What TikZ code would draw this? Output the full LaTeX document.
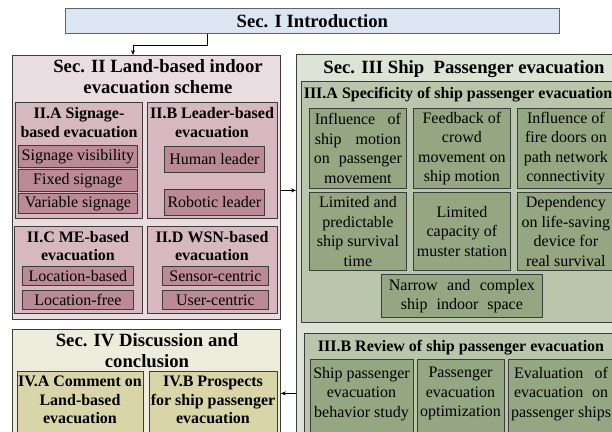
\documentclass[tikz,border=0pt]{standalone}
\usepackage{fontspec}
\setmainfont{Liberation Serif}
\usetikzlibrary{arrows.meta,calc}
\definecolor{tblue}{RGB}{220,230,242}
\definecolor{pinkA}{RGB}{234,221,225}
\definecolor{pinkB}{RGB}{215,184,192}
\definecolor{pinkC}{RGB}{187,138,148}
\definecolor{greenA}{RGB}{221,227,213}
\definecolor{greenB}{RGB}{186,198,172}
\definecolor{greenC}{RGB}{149,166,130}
\definecolor{yelA}{RGB}{238,236,220}
\definecolor{yelB}{RGB}{216,214,169}
\definecolor{bordc}{RGB}{60,60,60}
\newcommand\sectfont{\fontsize{18.7}{21}\selectfont\bfseries}
\newcommand\subtfont{\fontsize{16}{18.5}\selectfont\bfseries}
\newcommand\bodyfont{\fontsize{16}{19.5}\selectfont}
\newcommand\jl[2]{\makebox[#1][s]{#2}}
% #1 options, #2 name, #3 x1, #4 y1, #5 x2, #6 y2, #7 text
\newcommand\mkbox[7][]{%
  \pgfmathsetmacro\bxw{#5-#3}\pgfmathsetmacro\bxh{#6-#4}%
  \node[box,#1,minimum width=\bxw pt,minimum height=\bxh pt] (#2) at (#3,#4) {#7};}
\begin{document}
\begin{tikzpicture}[x=1pt,y=-1pt,
  box/.style={draw=bordc, line width=0.8pt, inner sep=0pt, anchor=north west, align=center},
  sect/.style={font=\sectfont, align=center, inner sep=0pt},
  subt/.style={font=\subtfont, align=center, inner sep=0pt},
  bodyt/.style={font=\bodyfont, align=center, inner sep=0pt},
  conn/.style={line width=0.8pt, draw=black, -{Stealth[length=5pt,width=4pt]}}]
\useasboundingbox (0,0) rectangle (612,431);
\fill[white] (0,0) rectangle (612,431);
\clip (0,0) rectangle (612,431);

% Sec I
\mkbox[fill=tblue,font=\sectfont,draw=bordc!80]{intro}{65}{8}{559}{33}{Sec. I Introduction}

% Sec II
\mkbox[fill=pinkA]{secII}{12}{55}{280}{319}{}
\node[sect,anchor=north] (secIIt) at (158,59.5) {Sec. II Land-based indoor\\evacuation scheme};
\mkbox[fill=pinkB]{IIA}{15}{102}{142}{218}{}
\node[subt,anchor=north] (IIAt) at (79,107.3) {II.A Signage-\\based evacuation};
\mkbox[fill=pinkB]{IIB}{147}{102}{277}{218}{}
\node[subt,anchor=north] (IIBt) at (212,107.3) {II.B Leader-based\\evacuation};
\mkbox[fill=pinkC,font=\bodyfont]{sv}{18}{145}{137}{167}{Signage visibility}
\mkbox[fill=pinkC,font=\bodyfont]{fs}{18}{169}{137}{191}{Fixed signage}
\mkbox[fill=pinkC,font=\bodyfont]{vs}{18}{193}{137}{213}{Variable signage}
\mkbox[fill=pinkC,font=\bodyfont]{hl}{164}{146}{264}{172}{Human leader}
\mkbox[fill=pinkC,font=\bodyfont]{rl}{164}{189}{264}{215}{Robotic leader}
\mkbox[fill=pinkB]{IIC}{14}{226}{142}{313}{}
\node[subt,anchor=north] (IICt) at (78,231) {II.C ME-based\\evacuation};
\mkbox[fill=pinkB]{IID}{147}{226}{277}{313}{}
\node[subt,anchor=north] (IIDt) at (212,231) {II.D WSN-based\\evacuation};
\mkbox[fill=pinkC,font=\bodyfont]{lb}{22}{266}{133}{285}{Location-based}
\mkbox[fill=pinkC,font=\bodyfont]{lf}{22}{290}{133}{309}{Location-free}
\mkbox[fill=pinkC,font=\bodyfont]{sc}{162}{266}{268}{285}{Sensor-centric}
\mkbox[fill=pinkC,font=\bodyfont]{uc}{162}{290}{268}{309}{User-centric}

% Sec IV
\mkbox[fill=yelA]{secIV}{12}{329}{280}{457}{}
\node[sect,anchor=north] (secIVt) at (147,333.3) {Sec. IV Discussion and\\conclusion};
\mkbox[fill=yelB]{IVA}{17}{371}{143}{445}{}
\node[subt,anchor=north] (IVAt) at (80,376) {IV.A Comment on\\Land-based\\evacuation};
\mkbox[fill=yelB]{IVB}{149}{371}{277}{445}{}
\node[subt,anchor=north] (IVBt) at (213,376) {IV.B Prospects\\for ship passenger\\evacuation};

% Sec III
\mkbox[fill=greenA]{secIII}{296}{54}{632}{445}{}
\node[sect,anchor=base] (secIIIt) at (464,73) {Sec. III Ship\ \ Passenger evacuation};
\mkbox[fill=greenB]{IIIA}{301}{81}{615}{322}{}
\node[subt,anchor=base] (IIIAt) at (458,98) {III.A Specificity of ship passenger evacuation};
\mkbox[fill=greenC,font=\bodyfont]{a1}{309}{108}{406}{188}{\jl{86pt}{Influence of}\\\jl{86pt}{ship motion}\\\jl{88pt}{on passenger}\\movement}
\mkbox[fill=greenC,font=\bodyfont]{a2}{413}{108}{510}{188}{Feedback of\\crowd\\movement on\\ship motion}
\mkbox[fill=greenC,font=\bodyfont]{a3}{517}{108}{614}{188}{Influence of\\fire doors on\\path network\\connectivity}
\mkbox[fill=greenC,font=\bodyfont]{a4}{309}{192}{406}{270}{Limited and\\predictable\\ship survival\\time}
\mkbox[fill=greenC,font=\bodyfont]{a5}{413}{192}{510}{270}{Limited\\capacity of\\muster station}
\mkbox[fill=greenC,font=\bodyfont]{a6}{517}{192}{614}{270}{Dependency\\on life-saving\\device for\\real survival}
\mkbox[fill=greenC,font=\bodyfont]{a7}{381}{274}{542}{317}{\jl{146pt}{Narrow and complex}\\\jl{122pt}{ship indoor space}}
\mkbox[fill=greenB]{IIIB}{304}{333}{618}{445}{}
\node[subt,anchor=base] (IIIBt) at (461,351) {III.B Review of ship passenger evacuation};
\mkbox[fill=greenC]{b1}{310}{359}{413}{445}{}
\node[bodyt,anchor=north] (b1t) at (361.5,367) {Ship passenger\\evacuation\\behavior study};
\mkbox[fill=greenC]{b2}{417}{359}{504}{445}{}
\node[bodyt,anchor=north] (b2t) at (460.5,367) {Passenger\\evacuation\\optimization};
\mkbox[fill=greenC]{b3}{508}{359}{614}{445}{}
\node[bodyt,anchor=north] (b3t) at (561,367) {\jl{94pt}{Evaluation of}\\\jl{94pt}{evacuation on}\\passenger ships};

% connectors
\draw[conn] ([xshift=142pt]intro.south west) -- ++(0,12) -| ([xshift=121pt]secII.north west);
\draw[conn] ([yshift=-3pt]secII.east) -- ([yshift=-3pt]secII.east -| secIII.west);
\draw[conn] (secIV.east -| secIII.west) -- (secIV.east);
\end{tikzpicture}
\end{document}
